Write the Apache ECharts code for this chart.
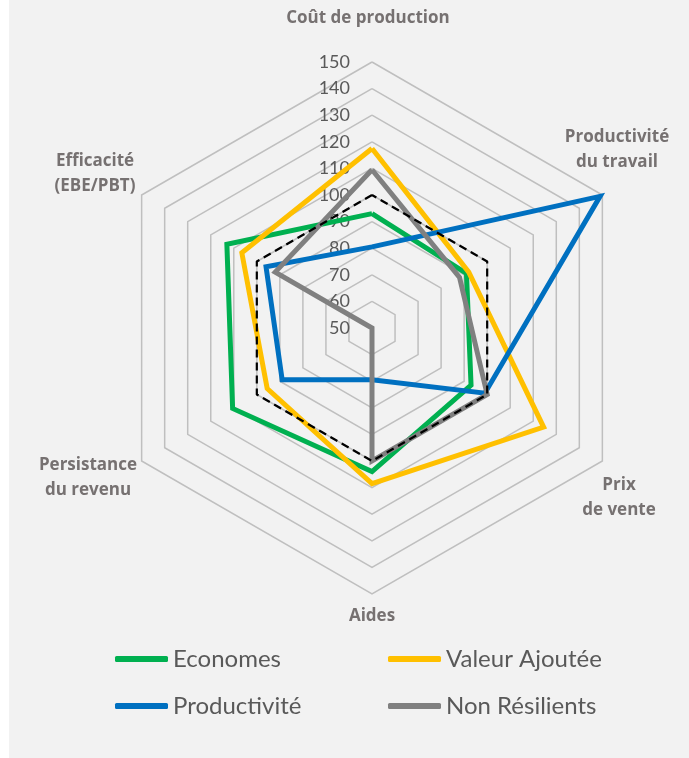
<!DOCTYPE html>
<html>
<head>
<meta charset="utf-8">
<script src="https://cdn.jsdelivr.net/npm/echarts@6/dist/echarts.min.js"></script>
<style>
html,body{margin:0;padding:0;background:#ffffff;}
#chart{width:689px;height:758px;}
</style>
</head>
<body>
<div id="chart"></div>
<script>
// Axes in the chart's clockwise order, starting at the top
var indicators = ['Coût de production', 'Productivité\ndu travail', 'Prix\nde vente', 'Aides', 'Persistance\ndu revenu', 'Efficacité\n(EBE/PBT)'];
var economes = [93, 91, 93, 104, 110.5, 113];
var valeurAjoutee = [117.5, 92, 124.5, 108.5, 95.5, 106.5];
var productivite = [80.5, 149, 99, 69.5, 89, 96];
var nonResilients = [109.5, 88, 100, 100, 50, 92];
var reference = [100, 100, 100, 100, 100, 100];
var seriesNames = ['Economes', 'Valeur Ajoutée', 'Productivité', 'Non Résilients'];
var axisMin = 50, axisMax = 150, axisStep = 10;

var colors = ['#00b050', '#ffc000', '#0070c0', '#808080'];
var CX = 372, CY = 328, R = 266;

// ECharts radar runs counter-clockwise; reorder so the picture runs clockwise
var order = [0, 5, 4, 3, 2, 1];
function reorder(a){ return order.map(function(i){ return a[i]; }); }

var chart = echarts.init(document.getElementById('chart'), null, {renderer:'canvas'});

var dataSets = [economes, valeurAjoutee, productivite, nonResilients];
var series = dataSets.map(function(d, k){
  return {
    type: 'radar', name: seriesNames[k], symbol: 'none', z: 2 + k,
    lineStyle: {color: colors[k], width: 5, join: 'miter'},
    itemStyle: {color: colors[k]},
    data: [{value: reorder(d), name: seriesNames[k]}]
  };
});
series.push({
  type: 'radar', name: 'Référence', symbol: 'none', z: 10,
  lineStyle: {color: '#000000', width: 2.2, type: [8, 5]},
  itemStyle: {color: '#000000'},
  data: [{value: reorder(reference), name: 'Référence'}]
});

var nameStyle = {font: 'bold 17px "Open Sans"', fill: '#767171', textAlign: 'center', textVerticalAlign: 'middle', lineHeight: 25};
var namePos = [[368, 18], [617, 150], [619, 498], [372, 616], [88, 478], [95, 174]];
var nameGraphics = indicators.map(function(t, i){
  return {type: 'text', x: namePos[i][0], y: namePos[i][1], z: 20, style: Object.assign({text: t}, nameStyle)};
});

var legendPos = [[115, 647], [388, 647], [115, 694], [388, 694]];
var legends = seriesNames.map(function(n, k){
  return {
    left: legendPos[k][0], top: legendPos[k][1], data: [{name: n, icon: 'roundRect'}],
    itemWidth: 53, itemHeight: 6, padding: 0, selectedMode: false,
    textStyle: {fontFamily: 'Lato', fontSize: 24, color: '#595959'}
  };
});

chart.setOption({
  animation: false,
  backgroundColor: 'transparent',
  graphic: [{type: 'rect', shape: {x: 9, y: 0, width: 680, height: 758}, style: {fill: '#f2f2f2'}, z: -10, silent: true}].concat(nameGraphics),
  legend: legends,
  radar: {
    center: [CX, CY], radius: R, startAngle: 90, shape: 'polygon',
    splitNumber: (axisMax - axisMin) / axisStep,
    indicator: reorder(indicators).map(function(n){ return {name: n, min: axisMin, max: axisMax}; }),
    axisName: {show: false},
    axisLine: {show: false},
    axisTick: {show: false},
    axisLabel: {show: false},
    splitArea: {show: false},
    splitLine: {lineStyle: {color: '#bfbfbf', width: 1.5}}
  },
  polar: {center: [CX, CY], radius: R},
  angleAxis: {show: false, startAngle: 90, min: 0, max: 360},
  radiusAxis: {
    min: axisMin, max: axisMax, interval: axisStep,
    axisLine: {show: false}, axisTick: {show: false}, splitLine: {show: false},
    axisLabel: {show: true, fontFamily: 'Lato', fontSize: 18, color: '#595959', margin: 22}
  },
  series: series
});
</script>
</body>
</html>
